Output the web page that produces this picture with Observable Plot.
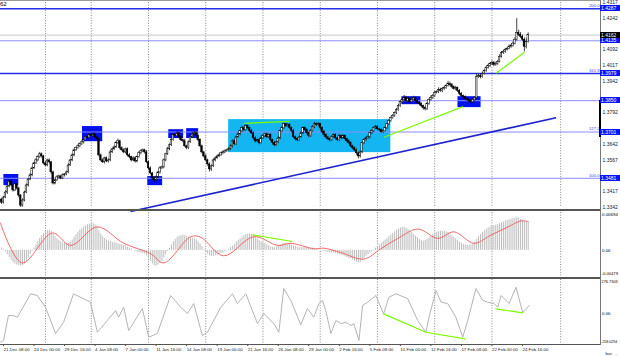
<!DOCTYPE html>
<html><head><meta charset="utf-8">
<script src="https://cdn.jsdelivr.net/npm/d3@7"></script>
<script src="https://cdn.jsdelivr.net/npm/@observablehq/plot@0.6"></script>
<style>
body{margin:0;background:#fff;}
#c{position:relative;width:620px;height:357px;overflow:hidden;font-family:"Liberation Sans",Arial,sans-serif;background:#fff;}
#c svg{position:absolute;left:0;}
.tag{position:absolute;left:600px;width:20px;height:6px;font-size:5px;line-height:6px;color:#fff;padding-left:1px;box-sizing:border-box;white-space:nowrap;overflow:hidden;}
.ln{position:absolute;background:#555;}
</style></head><body><div id="c"></div><script>
// ---------- data ----------
const dateLabels = ["21 Dec 08:00","24 Dec 00:00","29 Dec 16:00","4 Jan 08:00","7 Jan 00:00","11 Jan 16:00","14 Jan 08:00","19 Jan 00:00","21 Jan 16:00","26 Jan 08:00","29 Jan 00:00","2 Feb 16:00","5 Feb 08:00","10 Feb 00:00","12 Feb 16:00","17 Feb 08:00","22 Feb 00:00","24 Feb 16:00"];
const dateLabelBars = [0,16,32,48,64,80,96,112,128,144,160,176,192,208,224,240,256,272];
const weekStartBars = [22,46,76,106,136,166,196,226,256,292];
// visible price-scale labels (the others sit under the level tags)
const priceTicks = [1.4317,1.4242,1.4092,1.4017,1.3942,1.3792,1.3642,1.3567,1.3417,1.3342];

const firstBar = -1;
const firstOpen = 1.3380;
const close = [
1.3365,1.3389,1.3413,1.3442,1.3466,1.3447,1.3423,1.3452,1.3432,1.3399,
1.3351,1.3375,1.3413,1.3447,1.3475,1.3495,1.3528,1.3552,1.3566,1.3581,
1.3595,1.3585,1.3552,1.3542,1.3566,1.3557,1.3509,1.3456,1.3471,1.3485,
1.3490,1.3480,1.3495,1.3499,1.3509,1.3542,1.3566,1.3590,1.3614,1.3624,
1.3633,1.3643,1.3652,1.3662,1.3676,1.3671,1.3686,1.3681,1.3690,1.3676,
1.3667,1.3590,1.3566,1.3557,1.3576,1.3561,1.3566,1.3604,1.3619,1.3628,
1.3648,1.3657,1.3624,1.3614,1.3604,1.3619,1.3590,1.3581,1.3566,1.3576,
1.3561,1.3581,1.3600,1.3609,1.3614,1.3604,1.3557,1.3528,1.3504,1.3480,
1.3471,1.3485,1.3509,1.3528,1.3533,1.3566,1.3595,1.3619,1.3638,1.3662,
1.3686,1.3681,1.3695,1.3676,1.3662,1.3657,1.3633,1.3624,1.3652,1.3676,
1.3690,1.3695,1.3681,1.3662,1.3633,1.3604,1.3585,1.3566,1.3547,1.3523,
1.3538,1.3566,1.3576,1.3585,1.3590,1.3600,1.3604,1.3609,1.3614,1.3619,
1.3633,1.3657,1.3643,1.3676,1.3690,1.3705,1.3719,1.3710,1.3729,1.3719,
1.3705,1.3695,1.3671,1.3657,1.3662,1.3648,1.3671,1.3681,1.3690,1.3676,
1.3686,1.3662,1.3648,1.3638,1.3652,1.3671,1.3705,1.3719,1.3738,1.3729,
1.3734,1.3719,1.3705,1.3676,1.3667,1.3662,1.3676,1.3695,1.3719,1.3710,
1.3695,1.3681,1.3705,1.3724,1.3738,1.3734,1.3738,1.3719,1.3700,1.3686,
1.3676,1.3667,1.3662,1.3676,1.3686,1.3671,1.3662,1.3681,1.3671,1.3681,
1.3667,1.3657,1.3648,1.3633,1.3624,1.3614,1.3600,1.3585,1.3604,1.3648,
1.3662,1.3671,1.3676,1.3695,1.3705,1.3719,1.3724,1.3714,1.3710,1.3700,
1.3705,1.3719,1.3738,1.3753,1.3767,1.3777,1.3791,1.3805,1.3824,1.3843,
1.3853,1.3863,1.3848,1.3858,1.3843,1.3853,1.3863,1.3848,1.3839,1.3834,
1.3824,1.3815,1.3810,1.3834,1.3853,1.3863,1.3872,1.3887,1.3891,1.3901,
1.3896,1.3906,1.3910,1.3920,1.3930,1.3925,1.3915,1.3906,1.3910,1.3896,
1.3882,1.3872,1.3867,1.3858,1.3853,1.3848,1.3843,1.3853,1.3863,1.3963,
1.3968,1.3963,1.3977,1.3992,1.4006,1.4016,1.4025,1.4030,1.4020,1.4025,
1.4035,1.4059,1.4078,1.4082,1.4092,1.4097,1.4106,1.4111,1.4121,1.4140,
1.4173,1.4164,1.4154,1.4140,1.4106,1.4130,1.4162];
// upper / lower shadow lengths in pips
const wickUpPips = [
6,5,8,4,7,9,5,6,4,7, 5,8,6,7,5,9,6,5,8,7, 9,6,5,8,6,7,4,6,5,8, 6,5,7,4,6,8,5,7,6,5,
7,6,8,5,9,6,7,10,8,6, 5,7,6,8,5,6,7,9,5,6, 8,10,5,6,7,5,6,8,5,7, 6,5,8,7,6,5,9,6,7,5,
6,7,5,8,6,7,5,9,6,8, 7,6,8,5,7,6,9,5,7,6, 8,9,6,5,7,6,5,8,6,7, 6,7,5,6,8,5,7,6,5,8,
7,6,9,5,8,6,10,7,9,6, 5,7,6,8,5,6,9,7,5,6, 7,6,5,8,6,9,7,8,6,5, 7,6,5,8,6,7,5,9,6,7,
6,5,8,7,9,6,7,5,6,8, 7,5,6,8,6,7,5,9,6,7, 6,5,7,6,5,6,7,5,8,6, 7,6,8,5,7,6,9,7,5,6,
6,7,5,8,6,7,5,8,9,7, 10,12,8,9,7,10,8,6,7,5, 6,5,7,8,6,9,7,8,6,10, 8,7,9,6,12,8,7,6,8,5,
6,7,5,6,8,5,6,9,7,15, 8,7,9,6,8,7,6,9,7,8, 7,9,6,8,7,6,9,7,8,10, 67,12,10,8,9,14,10];
const wickDownPips = [
8,6,5,9,7,6,8,5,7,10, 14,7,6,5,8,6,7,5,6,7, 6,8,7,5,6,8,9,7,6,5, 7,6,5,8,6,7,5,6,7,6,
5,7,6,8,5,7,6,5,8,7, 9,8,7,6,8,5,7,6,5,7, 6,7,8,5,6,7,8,6,7,5, 8,6,5,7,6,8,7,9,6,8,
10,7,6,8,5,7,6,5,7,6, 5,7,6,8,6,7,5,8,6,5, 6,5,7,8,6,7,8,6,9,12, 8,6,7,5,6,5,7,6,5,6,
6,8,7,6,5,7,6,8,5,7, 7,6,8,9,6,8,5,6,7,6, 6,8,9,7,5,6,7,5,6,7, 6,7,8,7,9,8,6,5,7,6,
7,8,6,5,7,6,5,8,7,6, 8,7,9,6,5,8,7,6,7,5, 7,8,6,7,8,6,9,12,8,6, 7,6,5,8,6,7,6,8,7,6,
7,5,6,7,6,5,6,7,5,6, 7,6,9,8,7,6,5,8,7,9, 8,10,9,7,6,5,7,6,5,7, 6,8,7,6,5,7,8,6,9,7,
8,7,9,8,6,10,9,7,6,5, 7,9,6,5,7,6,8,7,9,6, 7,5,6,8,7,6,5,7,6,5, 6,9,8,7,24,10,6];

const levelPrices = [1.4287,1.4135,1.3979,1.3850,1.3701,1.3481];
const levelStrong = [true,false,true,false,false,false];
const fibPrices = [1.4287,1.3979,1.3701,1.3481];
const fibTexts = ["200.0","161.8","127.2","100.0"];
const currentPrice = 1.4162;

const boxBarFrom = [0.2,41.4,75.6,86.6,96,208.8,238.2];
const boxBarTo   = [8,52,83.4,94.4,102.3,218.8,250.3];
const boxLow     = [1.3446,1.3655,1.3446,1.3670,1.3670,1.3831,1.3817];
const boxHigh    = [1.3499,1.3727,1.3489,1.3712,1.3717,1.3869,1.3869];
const rangeBars = [118,203], rangePrices = [1.3603,1.3760];

const trendBars = [66.6,289.6], trendPrices = [1.3323,1.3769];
const greenMainBars = [[126.4,150],[199.4,240.8],[258.1,273]];
const greenMainPrices = [[1.3742,1.3752],[1.3676,1.3822],[1.3980,1.4080]];

const macdHist = [
0.0004,0.0002,-0.0003,-0.0008,-0.0013,-0.0018,-0.0022,-0.0025,-0.0027,-0.0028,
-0.0029,-0.0028,-0.0025,-0.0020,-0.0014,-0.0008,-0.0002,0.0004,0.0010,0.0016,
0.0022,0.0027,0.0031,0.0034,0.0036,0.0037,0.0035,0.0030,0.0025,0.0021,
0.0018,0.0016,0.0014,0.0013,0.0012,0.0013,0.0015,0.0019,0.0024,0.0029,
0.0033,0.0037,0.0040,0.0043,0.0045,0.0047,0.0048,0.0049,0.0049,0.0047,
0.0044,0.0036,0.0030,0.0025,0.0022,0.0019,0.0017,0.0016,0.0015,0.0014,
0.0013,0.0012,0.0011,0.0010,0.0009,0.0008,0.0006,0.0004,0.0002,0.0000,
-0.0002,-0.0003,-0.0004,-0.0005,-0.0006,-0.0007,-0.0010,-0.0015,-0.0020,-0.0025,
-0.0028,-0.0029,-0.0027,-0.0024,-0.0020,-0.0014,-0.0008,-0.0002,0.0004,0.0010,
0.0016,0.0020,0.0024,0.0026,0.0027,0.0028,0.0027,0.0025,0.0024,0.0023,
0.0022,0.0021,0.0019,0.0016,0.0012,0.0007,0.0002,-0.0003,-0.0007,-0.0010,
-0.0011,-0.0011,-0.0010,-0.0009,-0.0008,-0.0006,-0.0005,-0.0003,-0.0001,0.0002,
0.0005,0.0008,0.0011,0.0015,0.0018,0.0021,0.0024,0.0027,0.0029,0.0030,
0.0030,0.0029,0.0027,0.0024,0.0021,0.0018,0.0016,0.0014,0.0012,0.0010,
0.0008,0.0006,0.0005,0.0005,0.0006,0.0008,0.0010,0.0012,0.0013,0.0013,
0.0012,0.0011,0.0010,0.0008,0.0007,0.0006,0.0005,0.0005,0.0005,0.0006,
0.0005,0.0004,0.0004,0.0004,0.0003,0.0002,0.0001,0.0000,-0.0001,-0.0002,
-0.0003,-0.0004,-0.0004,-0.0005,-0.0005,-0.0006,-0.0007,-0.0008,-0.0009,-0.0010,
-0.0012,-0.0013,-0.0015,-0.0016,-0.0018,-0.0020,-0.0021,-0.0023,-0.0022,-0.0019,
-0.0015,-0.0011,-0.0008,-0.0005,-0.0002,0.0001,0.0004,0.0007,0.0010,0.0013,
0.0016,0.0019,0.0022,0.0025,0.0028,0.0031,0.0034,0.0037,0.0039,0.0041,
0.0042,0.0042,0.0041,0.0039,0.0036,0.0033,0.0029,0.0026,0.0023,0.0020,
0.0018,0.0017,0.0018,0.0020,0.0023,0.0026,0.0029,0.0031,0.0033,0.0034,
0.0035,0.0035,0.0035,0.0034,0.0033,0.0030,0.0027,0.0024,0.0021,0.0018,
0.0015,0.0013,0.0011,0.0010,0.0009,0.0009,0.0010,0.0012,0.0015,0.0020,
0.0025,0.0029,0.0033,0.0036,0.0039,0.0041,0.0043,0.0044,0.0045,0.0046,
0.0047,0.0049,0.0051,0.0052,0.0054,0.0055,0.0056,0.0057,0.0058,0.0059,
0.0060,0.0059,0.0057,0.0055,0.0053,0.0052,0.0051];
const signalBars = [-1.6,9.8,25.6,35.2,49.2,63,77.1,84,98.1,103.4,115.4,131.2,143.8,150.6,162.6,167.9,176.8,188.9,197.8,206.7,217.2,227.7,236.1,246.6,255.5,264.4,271.2,275];
const signalVals = [0.0050,-0.0023,0.0032,0.0009,0.0043,0.0013,-0.0006,-0.0023,0.0025,0.0024,-0.0010,0.0025,0.0009,0.0013,0.0003,0.0004,-0.0004,-0.0016,0.0003,0.0022,0.0039,0.0022,0.0034,0.0013,0.0028,0.0043,0.0054,0.0053];
const macdGreenBars = [130.5,151.5], macdGreenVals = [0.00285,0.00162];
const macdScale = [-0.00479,0.00694];

const cciBar = [-1.6,0,2.6,5.2,7.3,14.2,17.7,22,27.3,31.5,36.7,45.6,49.2,54.4,58.8,60.3,63,65.6,72.8,76.1,80.6,87.6,92.9,96.4,99.7,104.2,106.9,113.9,120,122.6,127,133.1,136.4,141.7,144.3,146.9,150.6,155.8,159.3,162.6,165.3,167.2,168.9,171.6,174.2,176.8,179.4,182.1,183.6,186.3,188.2,190.8,195.2,199.2,202,205.7,211.8,217.1,221.4,223,226.7,229.3,232.8,237.1,240.7,243.3,247.6,251.2,253.8,257.1,259,260.8,265,268.6,272.1,275.5];
const cciVal = [-239,-225,-20,-20,-34,159,145,49,-168,-75,159,90,-157,-61,21,-34,49,-143,38,-198,-168,145,49,-3,79,-184,-157,49,159,79,159,-86,-3,-86,-157,202,104,-95,38,-34,79,104,21,-168,-61,-86,-75,-102,-86,-225,63,90,145,-6,131,159,120,-61,-157,-34,186,90,79,-34,-198,-61,202,104,90,79,49,145,79,213,7,63];
const cciGreen = [[[199.2,-6],[221.4,-157],[241.9,-211]],[[258.1,35],[272.1,2]]];
const cciScale = [-258.0294,276.7303];

// ---------- build ----------
const candles = close.map((c, i) => {
  const o = i === 0 ? firstOpen : close[i - 1];
  return {bar: firstBar + i, open: o, close: c,
    high: Math.max(o, c) + wickUpPips[i] * 1e-4,
    low: Math.min(o, c) - wickDownPips[i] * 1e-4};
});
const boxes = boxBarFrom.map((b, i) => ({x1: b, x2: boxBarTo[i], y1: boxLow[i], y2: boxHigh[i]}));
const levels = levelPrices.map((p, i) => ({p, strong: levelStrong[i]}));
const greenMain = greenMainBars.map((b, i) => ({x1: b[0], x2: b[1], y1: greenMainPrices[i][0], y2: greenMainPrices[i][1]}));
const hist = macdHist.map((v, i) => ({bar: firstBar + i, v}));
const signal = signalBars.map((b, i) => ({bar: b, v: signalVals[i]}));
const cci = cciBar.map((b, i) => ({bar: b, v: cciVal[i]}));
const cciG = cciGreen.flatMap((seg, k) => seg.map(([b, v]) => ({bar: b, v, k})));

const xDomain = [-3 / 1.908, 597 / 1.908];
const GRID = {stroke: "#6a6a6a", strokeDasharray: "1,1.6", strokeWidth: 0.8};
const GREEN = "#7cfc00";
const c = document.getElementById("c");

const main = Plot.plot({
  width: 620, height: 209, marginLeft: 0, marginRight: 20, marginTop: 2, marginBottom: 2,
  style: {background: "transparent", fontSize: "5px", fontFamily: "Liberation Sans, Arial, sans-serif", color: "#000", overflow: "visible"},
  x: {domain: xDomain, axis: null},
  y: {domain: [1.3342, 1.4317], axis: null},
  marks: [
    Plot.ruleX(weekStartBars, GRID),
    Plot.rect([0], {x1: rangeBars[0], x2: rangeBars[1], y1: rangePrices[0], y2: rangePrices[1], fill: "#14b6f2"}),
    Plot.rect(boxes, {x1: "x1", x2: "x2", y1: "y1", y2: "y2", fill: "#0010f0"}),
    Plot.ruleY([currentPrice], {stroke: "#c8c8c8", strokeWidth: 1}),
    Plot.ruleY(levels.filter(d => !d.strong), {y: "p", stroke: "#8c8cff", strokeWidth: 1}),
    Plot.ruleY(levels.filter(d => d.strong), {y: "p", stroke: "#2430e8", strokeWidth: 1.6}),
    Plot.link([0], {x1: trendBars[0], x2: trendBars[1], y1: trendPrices[0], y2: trendPrices[1], stroke: "#1c22d0", strokeWidth: 1.6}),
    Plot.ruleX(candles, {x: "bar", y1: "low", y2: "high", stroke: "#111", strokeWidth: 0.8, clip: true}),
    Plot.rect(candles, {x1: d => d.bar - 0.4, x2: d => d.bar + 0.4, y1: "open", y2: "close",
      fill: d => d.close >= d.open ? "#fff" : "#000", stroke: "#000", strokeWidth: 0.5, clip: true}),
    Plot.link(greenMain, {x1: "x1", x2: "x2", y1: "y1", y2: "y2", stroke: GREEN, strokeWidth: 1.2}),
    Plot.text(fibTexts, {y: (d, i) => fibPrices[i], text: d => d, frameAnchor: "right", textAnchor: "end", dx: -1, dy: -3, fill: "#3a3aff", fontSize: 4.2}),
    Plot.axisY(priceTicks, {anchor: "right", tickSize: 0, tickPadding: 2, tickFormat: d => d.toFixed(4), fontSize: 5, fill: "#222"})
  ]
});
main.style.top = "0px";
c.appendChild(main);

const macd = Plot.plot({
  width: 620, height: 66, marginLeft: 0, marginRight: 20, marginTop: 1, marginBottom: 1,
  style: {background: "transparent", fontSize: "5px", fontFamily: "Liberation Sans, Arial, sans-serif", overflow: "visible"},
  x: {domain: xDomain, axis: null},
  y: {domain: macdScale, axis: null},
  marks: [
    Plot.ruleX(weekStartBars, GRID),
    Plot.ruleX(hist, {x: "bar", y1: 0, y2: "v", stroke: "#bdbdbd", strokeWidth: 1}),
    Plot.line(signal, {x: "bar", y: "v", stroke: "#f25a5a", strokeWidth: 0.9, curve: "catmull-rom", clip: true}),
    Plot.link([0], {x1: macdGreenBars[0], x2: macdGreenBars[1], y1: macdGreenVals[0], y2: macdGreenVals[1], stroke: GREEN, strokeWidth: 1.2}),
    Plot.text([macdScale[1]], {y: d => d, text: d => d.toFixed(5), frameAnchor: "right", textAnchor: "start", dx: 1.5, dy: 2.5, fontSize: 4.4}),
    Plot.text([0], {y: d => d, text: d => d.toFixed(2), frameAnchor: "right", textAnchor: "start", dx: 1.5, fontSize: 4.4}),
    Plot.text([macdScale[0]], {y: d => d, text: d => d.toFixed(5), frameAnchor: "right", textAnchor: "start", dx: 1, dy: -2.5, fontSize: 4.2})
  ]
});
macd.style.top = "211px";
c.appendChild(macd);

const cciPlot = Plot.plot({
  width: 620, height: 78, marginLeft: 0, marginRight: 20, marginTop: 0, marginBottom: 13,
  style: {background: "transparent", fontSize: "4.5px", fontFamily: "Liberation Sans, Arial, sans-serif", overflow: "visible"},
  x: {domain: xDomain, axis: null},
  y: {domain: cciScale, axis: null},
  marks: [
    Plot.ruleX(weekStartBars, GRID),
    Plot.line(cci, {x: "bar", y: "v", stroke: "#b4b4b4", strokeWidth: 1, clip: true}),
    Plot.line(cciG, {x: "bar", y: "v", z: "k", stroke: GREEN, strokeWidth: 1.2}),
    Plot.text([cciScale[1]], {y: d => d, text: d => String(d), frameAnchor: "right", textAnchor: "start", dx: 1, dy: 2.5, fontSize: 3.9}),
    Plot.text([0], {y: d => d, text: d => d.toFixed(2), frameAnchor: "right", textAnchor: "start", dx: 1.5, fontSize: 4.4}),
    Plot.text([cciScale[0]], {y: d => d, text: d => String(d), frameAnchor: "right", textAnchor: "start", dx: 0.5, dy: -2.5, fontSize: 3.6}),
    Plot.axisX(dateLabelBars, {anchor: "bottom", tickSize: 2, tickPadding: 1.5, textAnchor: "start",
      tickFormat: d => dateLabels[dateLabelBars.indexOf(d)], fontSize: 4.4, stroke: "#444", fill: "#222"})
  ]
});
cciPlot.style.top = "279px";
c.appendChild(cciPlot);

// panel borders
function line(l, t, w, h, col) {
  const d = document.createElement("div");
  d.className = "ln";
  Object.assign(d.style, {left: l + "px", top: t + "px", width: w + "px", height: h + "px"});
  if (col) d.style.background = col;
  c.appendChild(d);
}
line(0, 0, 600, 1, "#999");
line(0, 209, 600, 2, "#555");
line(0, 277, 600, 2, "#555");
line(0, 344, 600, 1, "#555");
line(600, 0, 1, 345, "#777");
line(599, 100, 2, 37, "#000");

// price tags on the right axis
const ys = main.scale("y");
function tag(p, bg) {
  const d = document.createElement("div");
  d.className = "tag";
  d.textContent = p.toFixed(4);
  d.style.background = bg;
  d.style.top = (ys.apply(p) - 3) + "px";
  c.appendChild(d);
}
levelPrices.forEach(p => tag(p, "#0a14f5"));
tag(currentPrice, "#000");

const t = document.createElement("div");
t.textContent = "62";
Object.assign(t.style, {position: "absolute", left: "0px", top: "1px", fontSize: "6px", lineHeight: "6px", color: "#000"});
c.appendChild(t);
</script></body></html>
